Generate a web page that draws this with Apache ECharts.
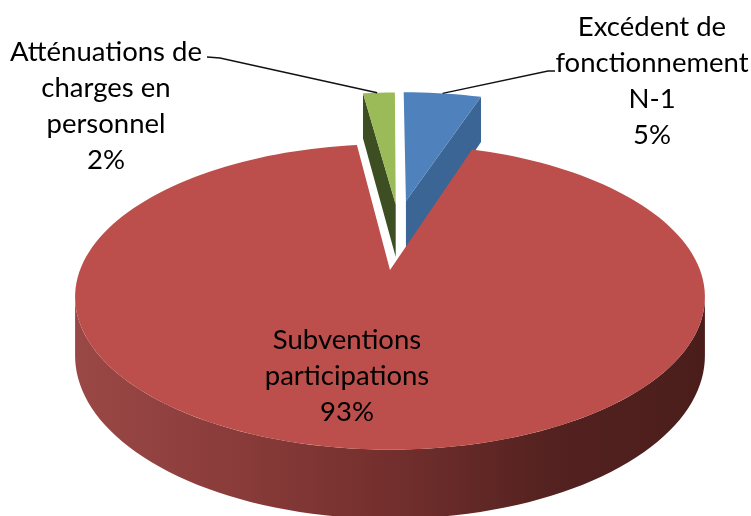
<!DOCTYPE html>
<html>
<head>
<meta charset="utf-8">
<title>Recettes de fonctionnement</title>
<script src="https://cdn.jsdelivr.net/npm/echarts@6/dist/echarts.min.js"></script>
<style>
  html, body { margin: 0; padding: 0; background: #fff; }
  #chart { width: 751px; height: 516px; }
</style>
</head>
<body>
<div id="chart"></div>
<script>
// Data, clockwise from 12 o'clock
const categories = ['Excédent de fonctionnement N-1', 'Subventions participations', 'Atténuations de charges en personnel'];
const values = [5, 93, 2];
const labelLines = [
    ['Excédent de', 'fonctionnement', 'N-1'],
    ['Subventions', 'participations'],
    ['Atténuations de', 'charges en', 'personnel']
];

// Look of each slice
const topColors = ['#4f81bd', '#bc4f4c', '#9bbb59'];
const faceColors = ['#3a6595', '#7a3331', '#3d4f22'];
const explode = [[0.056, -0.508], [0, 0], [0.02, -0.48]];
const sliceScale = [1.015, 1, 1.04];
const labelPos = [[652, 27], [347, 340], [106, 52]];
const leaderFrom = [[[555, 71], [548, 71]], null, [[207, 57], [220, 58]]];
const leaderAngle = [9, null, 356];

// Perspective view of the pie (pixels)
const cx = 390, cy = 270, radiusX = 310, radiusY = 148, perspective = 0.176, thickness = 57;

function project(u, v, drop) {
    const w = 1 - perspective * v;
    return [cx + radiusX * u / w, cy + (radiusY * v + drop) / w];
}

// deg is clockwise from the top of the pie
function rimPoint(deg, off, scale, drop) {
    const a = deg * Math.PI / 180;
    return project(scale * Math.sin(a) + off[0], -scale * Math.cos(a) + off[1], drop);
}

function arc(from, to, off, scale, drop) {
    const pts = [];
    const steps = Math.max(2, Math.ceil(Math.abs(to - from) / 2));
    for (let i = 0; i <= steps; i++) {
        pts.push(rimPoint(from + (to - from) * i / steps, off, scale, drop));
    }
    return pts;
}

const total = values.reduce((a, b) => a + b, 0);

function renderSlice(params, api) {
    const i = params.dataIndex;
    let start = 0;
    for (let k = 0; k < i; k++) start += values[k];
    start = start / total * 360;
    const end = start + api.value(0) / total * 360;
    const off = explode[i];
    const scale = sliceScale[i];
    const apex = project(off[0], off[1], 0);
    const apexLow = project(off[0], off[1], thickness);
    const children = [];
    const big = end - start > 180;

    if (big) {
        // outer wall, only the part facing the viewer
        const edge = Math.acos(-perspective) * 180 / Math.PI;
        const wall = arc(edge, 360 - edge, off, scale, 0).concat(arc(360 - edge, edge, off, scale, thickness));
        children.push({
            type: 'polygon',
            z2: 3,
            shape: { points: wall },
            style: {
                fill: new echarts.graphic.LinearGradient(0, 0, 1, 0, [
                    { offset: 0, color: '#9a4846' },
                    { offset: 0.25, color: '#8a3c3a' },
                    { offset: 0.5, color: '#732f2d' },
                    { offset: 0.75, color: '#542220' },
                    { offset: 1, color: '#4a1d1b' }
                ])
            }
        });
    } else {
        // cut face of a pulled out slice, the one that turns to the viewer
        const a = Math.abs(Math.sin(start * Math.PI / 180)) > Math.abs(Math.sin(end * Math.PI / 180)) ? start : end;
        children.push({
            type: 'polygon',
            z2: 1,
            shape: { points: [apex, rimPoint(a, off, scale, 0), rimPoint(a, off, scale, thickness), apexLow] },
            style: { fill: faceColors[i] }
        });
    }

    children.push({
        type: 'polygon',
        z2: big ? 4 : 2,
        shape: { points: [apex].concat(arc(start, end, off, scale, 0)) },
        style: { fill: topColors[i] }
    });

    if (leaderFrom[i]) {
        children.push({
            type: 'polyline',
            z2: 5,
            shape: { points: leaderFrom[i].concat([rimPoint(leaderAngle[i], off, scale, 0)]) },
            style: { stroke: '#111', lineWidth: 1.4, fill: null }
        });
    }

    labelLines[i].concat([api.value(0) + '%']).forEach((line, n) => {
        children.push({
            type: 'text',
            z2: 6,
            x: labelPos[i][0],
            y: labelPos[i][1] + n * 36,
            style: {
                text: line,
                fill: '#000',
                font: '27.5px Lato, "Open Sans", sans-serif',
                align: 'center',
                verticalAlign: 'middle'
            }
        });
    });

    return { type: 'group', children: children };
}

const chart = echarts.init(document.getElementById('chart'), null, { renderer: 'canvas' });

chart.setOption({
    backgroundColor: '#fff',
    animation: false,
    series: [{
        type: 'custom',
        coordinateSystem: 'none',
        clip: false,
        renderItem: renderSlice,
        data: values.map((v, i) => ({ name: categories[i], value: [v] }))
    }]
});

window.addEventListener('resize', () => {
    chart.resize();
});
</script>
</body>
</html>
